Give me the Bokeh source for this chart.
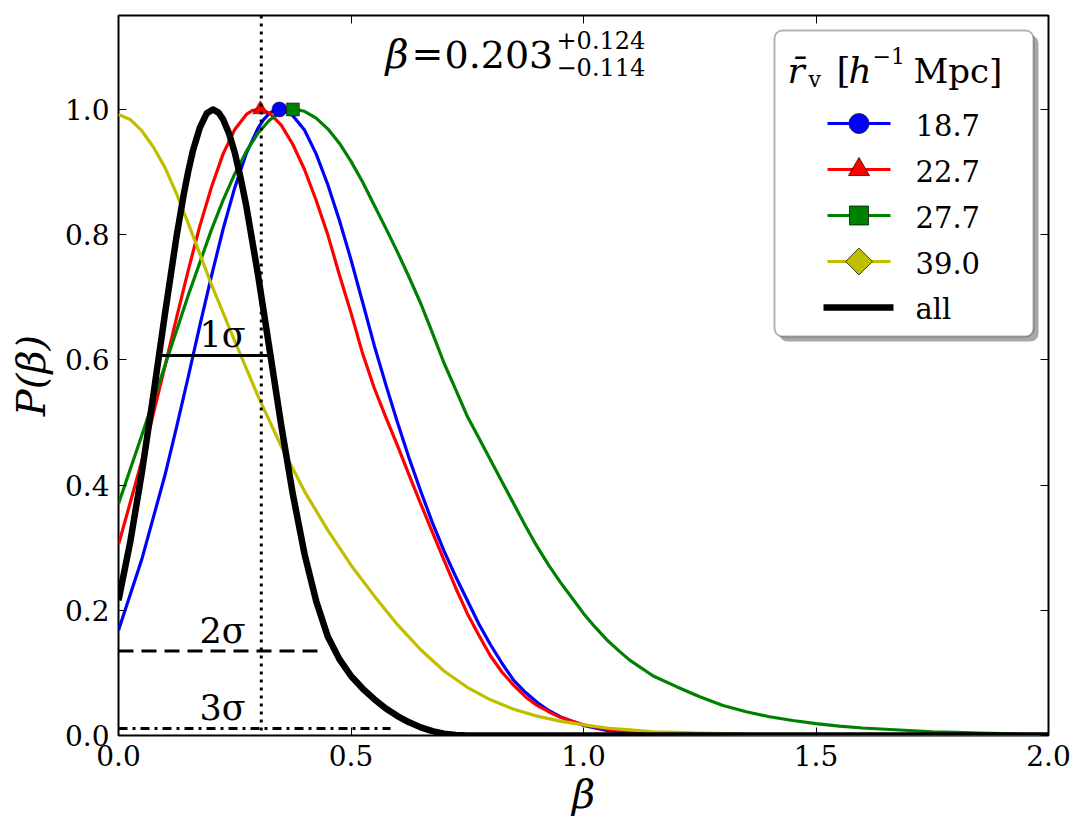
from bokeh.plotting import figure
from bokeh.models import (Range1d, LinearAxis, FixedTicker, PrintfTickFormatter,
                          Label, Span, BoxAnnotation)
from bokeh.embed import file_html
from bokeh.resources import INLINE

# ---------------- data ----------------
x_ticks = [0.0, 0.5, 1.0, 1.5, 2.0]
y_ticks = [0.0, 0.2, 0.4, 0.6, 0.8, 1.0]

series_names = ["18.7", "22.7", "27.7", "39.0", "all"]

beta_blue = [0.00, 0.05, 0.10, 0.125, 0.15, 0.175, 0.20, 0.225, 0.25, 0.275, 0.30, 0.3125, 0.325,
             0.335, 0.346, 0.36, 0.375, 0.40, 0.425, 0.45, 0.475, 0.50, 0.525, 0.55, 0.575, 0.60,
             0.625, 0.65, 0.675, 0.70, 0.725, 0.75, 0.775, 0.80, 0.825, 0.85, 0.875, 0.90, 0.925,
             0.95, 1.00, 1.05, 1.10, 1.15, 1.20, 1.30, 1.50, 2.00]
p_blue = [0.168, 0.281, 0.416, 0.493, 0.573, 0.655, 0.734, 0.809, 0.875, 0.930, 0.970, 0.984, 0.994,
          0.998, 1.000, 0.998, 0.990, 0.967, 0.929, 0.880, 0.823, 0.760, 0.692, 0.623, 0.560, 0.500,
          0.443, 0.390, 0.340, 0.295, 0.254, 0.216, 0.178, 0.145, 0.115, 0.088, 0.069, 0.053, 0.040,
          0.030, 0.016, 0.008, 0.004, 0.002, 0.001, 0.000, 0.000, 0.000]

beta_red = [0.00, 0.05, 0.075, 0.10, 0.125, 0.15, 0.175, 0.20, 0.225, 0.25, 0.275, 0.2875, 0.30,
            0.3125, 0.325, 0.35, 0.375, 0.40, 0.425, 0.45, 0.475, 0.50, 0.525, 0.55, 0.575, 0.60,
            0.625, 0.65, 0.675, 0.70, 0.725, 0.75, 0.775, 0.80, 0.825, 0.85, 0.875, 0.90, 0.925,
            0.95, 1.00, 1.05, 1.10, 1.15, 1.20, 1.25, 1.40, 2.00]
p_red = [0.305, 0.438, 0.514, 0.590, 0.668, 0.743, 0.814, 0.876, 0.929, 0.968, 0.992, 0.998, 1.000,
         0.998, 0.994, 0.975, 0.944, 0.904, 0.855, 0.800, 0.736, 0.675, 0.610, 0.555, 0.508, 0.463,
         0.416, 0.370, 0.325, 0.280, 0.236, 0.195, 0.160, 0.127, 0.101, 0.080, 0.062, 0.048, 0.038,
         0.029, 0.017, 0.010, 0.006, 0.003, 0.002, 0.001, 0.000, 0.000]

beta_green = [0.00, 0.05, 0.10, 0.15, 0.20, 0.225, 0.25, 0.275, 0.30, 0.325, 0.35, 0.3625, 0.375,
              0.3875, 0.40, 0.425, 0.45, 0.475, 0.50, 0.525, 0.55, 0.575, 0.60, 0.625, 0.65, 0.675,
              0.70, 0.725, 0.75, 0.775, 0.80, 0.825, 0.85, 0.875, 0.90, 0.925, 0.95, 0.975, 1.00,
              1.025, 1.05, 1.075, 1.10, 1.15, 1.20, 1.25, 1.30, 1.35, 1.40, 1.45, 1.50, 1.55, 1.60,
              1.65, 1.70, 1.75, 1.80, 1.85, 1.90, 1.95, 2.00]
p_green = [0.370, 0.479, 0.591, 0.703, 0.808, 0.855, 0.897, 0.933, 0.962, 0.983, 0.996, 0.999, 1.000,
           0.999, 0.997, 0.986, 0.969, 0.946, 0.917, 0.884, 0.847, 0.810, 0.772, 0.732, 0.690, 0.643,
           0.595, 0.553, 0.510, 0.475, 0.440, 0.405, 0.370, 0.335, 0.302, 0.272, 0.245, 0.220, 0.195,
           0.173, 0.153, 0.136, 0.120, 0.095, 0.078, 0.062, 0.048, 0.038, 0.030, 0.024, 0.019, 0.015,
           0.012, 0.010, 0.008, 0.006, 0.005, 0.004, 0.003, 0.002, 0.002]

beta_yellow = [0.00, 0.025, 0.05, 0.075, 0.10, 0.125, 0.15, 0.20, 0.25, 0.30, 0.35, 0.40, 0.45,
               0.50, 0.55, 0.60, 0.65, 0.70, 0.75, 0.80, 0.85, 0.90, 0.95, 1.00, 1.05, 1.10, 1.15,
               1.20, 1.25, 1.30, 1.35, 1.40, 1.50, 2.00]
p_yellow = [0.992, 0.984, 0.966, 0.940, 0.907, 0.865, 0.818, 0.720, 0.630, 0.542, 0.462, 0.390, 0.328,
            0.272, 0.223, 0.177, 0.137, 0.103, 0.077, 0.057, 0.042, 0.031, 0.023, 0.017, 0.012, 0.009,
            0.006, 0.005, 0.004, 0.003, 0.002, 0.001, 0.000, 0.000]

beta_all = [0.00, 0.025, 0.05, 0.075, 0.10, 0.125, 0.14, 0.15, 0.16, 0.175, 0.19, 0.203, 0.215,
            0.225, 0.2375, 0.25, 0.2625, 0.275, 0.30, 0.325, 0.35, 0.375, 0.40, 0.425, 0.45, 0.475,
            0.50, 0.525, 0.55, 0.575, 0.60, 0.625, 0.65, 0.675, 0.70, 0.725, 0.75, 1.00, 1.50, 2.00]
p_all = [0.216, 0.308, 0.419, 0.544, 0.674, 0.798, 0.863, 0.901, 0.934, 0.971, 0.994, 1.000, 0.995,
         0.984, 0.962, 0.931, 0.891, 0.845, 0.736, 0.616, 0.495, 0.385, 0.290, 0.215, 0.158, 0.122,
         0.095, 0.075, 0.058, 0.043, 0.031, 0.021, 0.013, 0.007, 0.003, 0.001, 0.000, 0.000, 0.000,
         0.000]

# peak markers
peak_beta = [0.346, 0.305, 0.375]
peak_p = [1.0, 1.0, 1.0]

# best fit and confidence levels
beta_best = 0.203
beta_plus = 0.124
beta_minus = 0.114
beta_ref = 0.307
sigma_levels = [0.607, 0.135, 0.011]
sigma_x0 = [0.092, 0.0, 0.0]
sigma_x1 = [0.327, 0.44, 0.585]
sigma_names = ["1σ", "2σ", "3σ"]

# ---------------- styling ----------------
colors = ["#0000ff", "#ff0000", "#008000", "#bfbf00", "black"]
markers = ["circle", "triangle", "square", "square"]
SERIF = "DejaVu Serif"

W, H = 1085, 838
FL, FR, FT, FB = 118, 1048, 15, 735
X0, X1, Y0, Y1 = 0.0, 2.0, 0.0, 1.15


def dx(px):
    return X0 + (px - FL) / (FR - FL) * (X1 - X0)


def dy(py):
    return Y0 + (FB - py) / (FB - FT) * (Y1 - Y0)


p = figure(width=W, height=H, x_range=Range1d(X0, X1), y_range=Range1d(Y0, Y1),
           output_backend="svg", toolbar_location=None,
           min_border_left=FL, min_border_right=W - FR, min_border_top=FT,
           min_border_bottom=H - FB)
p.xgrid.visible = False
p.ygrid.visible = False
p.outline_line_color = "black"
p.outline_line_width = 2
p.background_fill_color = "white"
p.border_fill_color = "white"


def style_axis(ax, ticks, labels=True):
    ax.ticker = FixedTicker(ticks=ticks)
    ax.formatter = PrintfTickFormatter(format="%.1f")
    ax.major_tick_in = 8
    ax.major_tick_out = 0
    ax.major_tick_line_color = "black"
    ax.major_tick_line_width = 1
    ax.minor_tick_line_color = None
    ax.axis_line_color = None
    if labels:
        ax.major_label_text_font = SERIF
        ax.major_label_text_font_size = "28px"
        ax.major_label_text_color = "black"
        ax.major_label_standoff = 9
    else:
        ax.major_label_text_font_size = "1px"
        ax.major_label_text_color = None
        ax.major_label_standoff = 0


style_axis(p.xaxis[0], x_ticks)
style_axis(p.yaxis[0], y_ticks)
p.xaxis.axis_label = "β"
p.yaxis.axis_label = "P(β)"
for ax in (p.xaxis[0], p.yaxis[0]):
    ax.axis_label_text_font = SERIF
    ax.axis_label_text_font_style = "italic"
    ax.axis_label_text_font_size = "40px"
    ax.axis_label_text_color = "black"
p.xaxis.axis_label_standoff = 2
p.yaxis.axis_label_standoff = 8

top_ax = LinearAxis()
style_axis(top_ax, x_ticks, labels=False)
p.add_layout(top_ax, "above")
right_ax = LinearAxis()
style_axis(right_ax, y_ticks, labels=False)
p.add_layout(right_ax, "right")


def add_text(px, base_py, text, fs, italic=False):
    """Place text so that its alphabetic baseline lands on pixel row base_py."""
    p.add_layout(Label(x=dx(px), y=dy(base_py - 0.345 * fs), text=text, text_font=SERIF,
                       text_font_style="italic" if italic else "normal",
                       text_font_size=f"{fs}px", text_color="black",
                       text_align="left", text_baseline="middle"))


# ---------------- curves ----------------
LW = 3.2
p.line(beta_blue, p_blue, line_color=colors[0], line_width=LW, line_join="round")
p.line(beta_red, p_red, line_color=colors[1], line_width=LW, line_join="round")
p.line(beta_green, p_green, line_color=colors[2], line_width=LW, line_join="round")
p.line(beta_yellow, p_yellow, line_color=colors[3], line_width=LW, line_join="round")
p.line(beta_all, p_all, line_color="black", line_width=6.5, line_join="round")

p.scatter([peak_beta[0]], [peak_p[0]], marker="circle", size=15, fill_color=colors[0],
          line_color="black", line_width=0.5)
p.scatter([peak_beta[1]], [peak_p[1]], marker="triangle", size=15, fill_color=colors[1],
          line_color="black", line_width=0.5)
p.scatter([peak_beta[2]], [peak_p[2]], marker="square", size=13, fill_color=colors[2],
          line_color="black", line_width=0.5)

# reference line and confidence levels
p.add_layout(Span(location=beta_ref, dimension="height", line_color="black",
                  line_dash="3 5", line_width=3))
dashes = ["solid", "15 8", "9 5 3 5"]
for lvl, a, b, d in zip(sigma_levels, sigma_x0, sigma_x1, dashes):
    p.line([a, b], [lvl, lvl], line_color="black", line_width=3, line_dash=d)

sig_label_base = [347, 643, 720]
for name, py in zip(sigma_names, sig_label_base):
    add_text(199, py, name, 35)

# title annotation: beta = 0.203 (+0.124 / -0.114)
add_text(385, 67, "β", 40, italic=True)
add_text(411, 67, "=", 38)
add_text(444, 67, f"{beta_best:.3f}", 38)
add_text(556, 48, f"+{beta_plus:.3f}", 24)
add_text(556, 75, f"−{beta_minus:.3f}", 24)

# ---------------- legend (drawn by hand to match the reference) ----------------
LB_L, LB_R, LB_T, LB_B = 774, 1033, 30, 336
p.add_layout(BoxAnnotation(left=dx(LB_L + 5), right=dx(LB_R + 5), top=dy(LB_T + 5),
                           bottom=dy(LB_B + 5), fill_color="#a8a8a8", fill_alpha=1.0,
                           line_color=None, border_radius=8, level="underlay"))
p.add_layout(BoxAnnotation(left=dx(LB_L), right=dx(LB_R), top=dy(LB_T), bottom=dy(LB_B),
                           fill_color="white", fill_alpha=1.0, line_color="black",
                           line_width=2, border_radius=8, level="underlay"))

# legend title pieces: r̄_v [h^-1 Mpc]
add_text(787, 82, "r̄", 36, italic=True)
add_text(808, 87, "v", 22)
add_text(836, 82, "[", 36)
add_text(848, 82, "h", 36, italic=True)
add_text(872, 63, "−1", 22)
add_text(913, 82, "Mpc]", 34)

row_py = [123, 169, 215, 261, 307]
marker_sizes = [20, 21, 19, 19]
marker_angles = [0.0, 0.0, 0.0, 0.785398]
for i, (name, col, py) in enumerate(zip(series_names, colors, row_py)):
    yy = dy(py)
    if i < 4:
        p.line([dx(827), dx(890)], [yy, yy], line_color=col, line_width=LW)
        p.scatter([dx(858.5)], [yy], marker=markers[i], size=marker_sizes[i],
                  angle=marker_angles[i], fill_color=col, line_color="black", line_width=0.7)
    else:
        p.line([dx(823), dx(893)], [yy, yy], line_color="black", line_width=6.5)
    add_text(915, py + 12, name, 29)

open("out.html", "w").write(file_html(p, INLINE))
